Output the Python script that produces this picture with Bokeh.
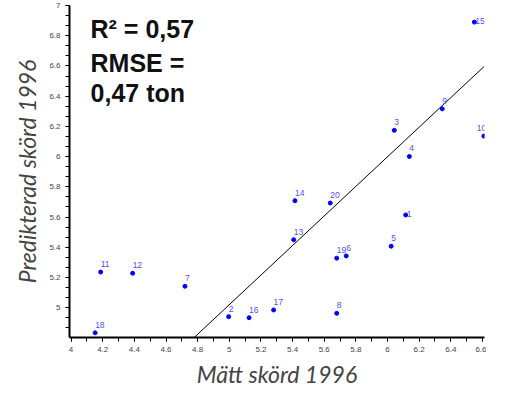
from bokeh.plotting import figure
from bokeh.models import Range1d, SingleIntervalTicker, CustomJSTickFormatter, Label, ColumnDataSource
from bokeh.core.properties import value
from bokeh.embed import file_html
from bokeh.resources import INLINE

# ---- data ----
sample_ids = [str(i) for i in range(1, 21)]
measured = [6.115, 4.996, 6.043, 6.138, 6.023, 5.739, 4.720, 5.679, 6.346, 6.609,
            4.187, 4.389, 5.407, 5.415, 6.549, 5.125, 5.280, 4.152, 5.679, 5.638]
predicted = [5.614, 4.941, 6.174, 6.001, 5.407, 5.343, 5.142, 4.963, 6.316, 6.136,
             5.236, 5.228, 5.450, 5.708, 6.890, 4.934, 4.985, 4.834, 5.328, 5.693]
fit_x = [4.778, 6.609]
fit_y = [4.803, 6.595]
stats_lines = ["R\u00b2 = 0,57", "RMSE =", "0,47 ton"]

# label placement (screen px offsets)
dx = [0] * 20
dy = [-8] * 20
dx[0], dy[0] = 1, -1      # 1
dx[14], dy[14] = 1, -1    # 15
dx[9], dy[9] = -7, -8     # 10

src = ColumnDataSource(dict(x=measured, y=predicted, t=sample_ids, dx=dx, dy=dy))

p = figure(width=486, height=390, x_range=Range1d(3.99, 6.613), y_range=Range1d(4.803, 7.0),
           output_backend="svg", toolbar_location=None,
           min_border_left=69, min_border_right=2, min_border_top=5, min_border_bottom=50)
p.grid.visible = False
p.outline_line_color = None

p.line(fit_x, fit_y, line_color="black", line_width=1)
p.scatter("x", "y", source=src, size=4, color="#0000ff")
p.text("x", "y", text="t", source=src, x_offset="dx", y_offset="dy",
       text_font=value("Liberation Sans"), text_font_size="8.5px", text_color="#4f4fff",
       text_align="left", text_baseline="alphabetic")

fmt = CustomJSTickFormatter(code="return String(parseFloat(tick.toFixed(1)));")
p.xaxis.ticker = SingleIntervalTicker(interval=0.2, num_minor_ticks=2)
p.yaxis.ticker = SingleIntervalTicker(interval=0.2, num_minor_ticks=3)
for ax in (p.xaxis, p.yaxis):
    ax.formatter = fmt
    ax.axis_line_width = 2
    ax.major_tick_out = 4
    ax.major_tick_in = 0
    ax.minor_tick_out = 4
    ax.minor_tick_in = 0
    ax.major_label_text_font = "Liberation Sans"
    ax.major_label_text_font_size = "8px"
    ax.axis_label_text_font = "Lato"
    ax.axis_label_text_font_size = "23px"

p.xaxis.axis_label = "Mätt skörd 1996"
p.yaxis.axis_label = "Predikterad skörd 1996"

ys = [6.843, 6.620, 6.423]
for txt, yv in zip(stats_lines, ys):
    p.add_layout(Label(x=4.123, y=yv, text=txt, text_font="Liberation Sans",
                       text_font_size="25px", text_font_style="bold", text_color="#111111",
                       text_baseline="alphabetic", text_align="left"))

open("out.html", "w").write(file_html(p, INLINE))
